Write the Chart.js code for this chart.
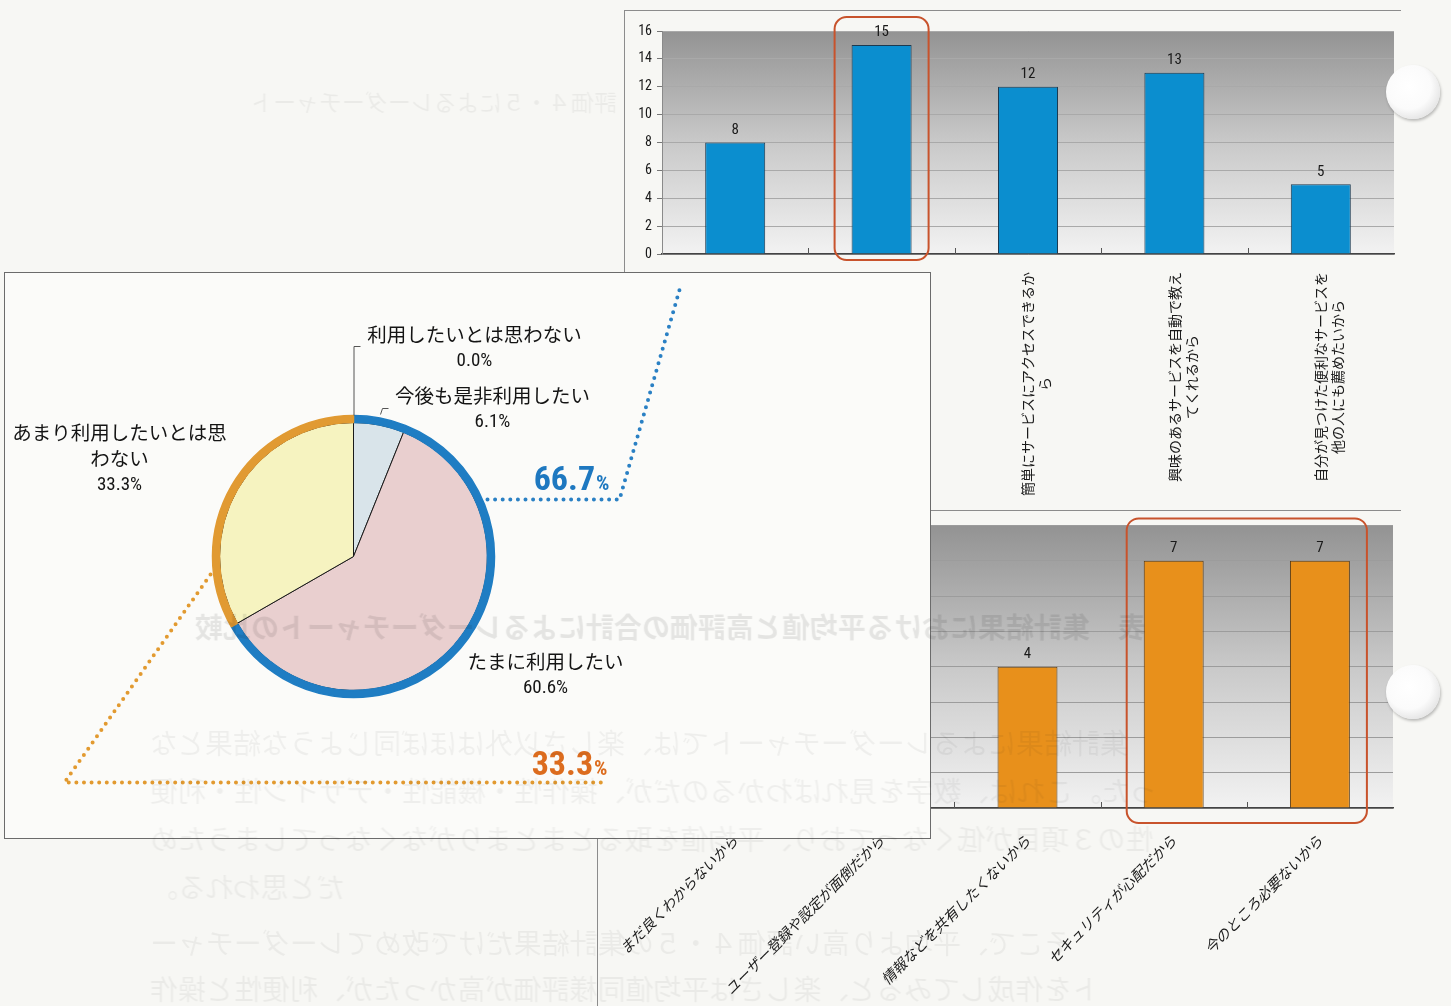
<!DOCTYPE html>
<html lang="ja">
<head>
<meta charset="utf-8">
<script src="https://cdn.jsdelivr.net/npm/chart.js@4.4.1/dist/chart.umd.min.js"></script>
<style>
  html, body { margin: 0; padding: 0; }
  body { width: 1451px; height: 1006px; overflow: hidden; position: relative; background: #f7f7f4; font-family: 'Noto Sans CJK JP', sans-serif; }
  canvas { position: absolute; }
  .frame { position: absolute; border: 0 solid #8c8c8c; }
  .hole { position: absolute; width: 54px; height: 54px; border-radius: 50%;
          background: radial-gradient(circle at 42% 40%, #ffffff 0%, #fbfbfb 50%, #e4e4e4 76%, #b8b8b8 100%);
          box-shadow: 1px 2px 3px rgba(0,0,0,0.25); }
  .ghost { position: absolute; white-space: nowrap; transform: scaleX(-1); pointer-events: none;
           color: rgba(0,0,0,0.05); font-size: 28px; mix-blend-mode: multiply; }
  #panel { position: absolute; left: 4px; top: 272px; width: 925px; height: 565px; background: #fbfbf9; border: 1.5px solid #6b6b6b; }
</style>
</head>
<body>

<div class="frame" style="left:624px;top:10px;width:776px;height:500px;border-top-width:1.5px;border-left-width:1.5px;"></div>
<div class="frame" style="left:597px;top:510px;width:803px;height:500px;border-top-width:1.5px;border-left-width:1.5px;"></div>

<canvas id="reasonChart" width="776" height="498" style="left:624px;top:10px"></canvas>
<canvas id="refusalChart" width="803" height="494" style="left:597px;top:512px"></canvas>

<div id="panel"><canvas id="intentChart" width="925" height="565" style="left:0;top:0"></canvas></div>

<!-- 裏写り -->
<div class="ghost" style="left:250px;top:84px;font-size:23px;">評価４・５によるレーダーチャート</div>
<div class="ghost" style="left:195px;top:606px;font-weight:bold;color:rgba(0,0,0,0.09);">表　集計結果における平均値と高評価の合計によるレーダーチャートの比較</div>
<div class="ghost" style="left:150px;top:722px;">集計結果によるレーダーチャートでは、楽しさ以外はほぼ同じような結果とな</div>
<div class="ghost" style="left:150px;top:770px;">った。これは、数字を見ればわかるのだが、操作性・機能性・デザイン性・利便</div>
<div class="ghost" style="left:150px;top:818px;">性の３項目が低くなっており、平均値を取るとまとまりがなくなってしまうため</div>
<div class="ghost" style="left:150px;top:866px;">だと思われる。</div>
<div class="ghost" style="left:150px;top:922px;">そこで、平均より高い評価４・５の集計結果だけで改めてレーダーチャー</div>
<div class="ghost" style="left:150px;top:968px;">トを作成してみると、楽しさは平均値同様評価が高かったが、利便性と操作</div>

<div class="hole" style="left:1386px;top:65px;"></div>
<div class="hole" style="left:1386px;top:665px;"></div>

<script>
const JP = "'Noto Sans CJK JP', sans-serif";
const NUM = "'Roboto Condensed', 'Liberation Sans', sans-serif";

// 利用したい理由（件数）
const reasonLabels = [
    ['情報がひとつの画面で見られるから'],
    ['好きなサービスを組み合わせられるから'],
    ['簡単にサービスにアクセスできるか', 'ら'],
    ['興味のあるサービスを自動で教え', 'てくれるから'],
    ['自分が見つけた便利なサービスを', '他の人にも薦めたいから']
];
const reasonCounts = [8, 15, 12, 13, 5];
const reasonTicks = [0, 2, 4, 6, 8, 10, 12, 14, 16];

// 利用したくない理由（件数）
const refusalLabels = ['まだ良くわからないから', 'ユーザー登録や設定が面倒だから', '情報などを共有したくないから', 'セキュリティが心配だから', '今のところ必要ないから'];
const refusalCounts = [3, 5, 4, 7, 7];
const refusalTicks = [0, 1, 2, 3, 4, 5, 6, 7, 8];

// 今後の利用意向（%）
const intentLabels = ['今後も是非利用したい', 'たまに利用したい', 'あまり利用したいとは思わない', '利用したいとは思わない'];
const intentShares = [6.1, 60.6, 33.3, 0.0];
// 外周リング：利用したい / 利用したくない
const ringShares = [intentShares[0] + intentShares[1], intentShares[2] + intentShares[3]];

// 縦書きラベルの2行目を1行目の中央にそろえる
const centerLines = (lines) => {
    const n = Math.max(...lines.map(s => s.length));
    return lines.map(s => {
        const gap = n - s.length;
        return s + '\u3000'.repeat(Math.floor(gap / 2)) + (gap % 2 ? '\u2002' : '');
    });
};

// プロット領域のグラデーション背景と内向きの目盛り
const plotShade = {
    id: 'plotShade',
    beforeDraw(chart) {
        const { ctx, chartArea: a } = chart;
        const g = ctx.createLinearGradient(0, a.top, 0, a.bottom);
        g.addColorStop(0, '#939393');
        g.addColorStop(0.5, '#c9c9c9');
        g.addColorStop(1, '#f2f2f2');
        ctx.save();
        ctx.fillStyle = g;
        ctx.fillRect(a.left, a.top, a.width, a.height);
        ctx.restore();
    },
    afterDatasetsDraw(chart) {
        const { ctx, chartArea: a } = chart;
        const n = chart.data.labels.length;
        ctx.save();
        ctx.strokeStyle = '#555';
        ctx.lineWidth = 1;
        for (let i = 1; i < n; i++) {
            const x = Math.round(a.left + i * a.width / n) + 0.5;
            ctx.beginPath();
            ctx.moveTo(x, a.bottom);
            ctx.lineTo(x, a.bottom - 6);
            ctx.stroke();
        }
        ctx.restore();
    }
};

// 棒の上の件数
const valueLabels = {
    id: 'valueLabels',
    afterDatasetsDraw(chart) {
        const { ctx } = chart;
        const meta = chart.getDatasetMeta(0);
        const values = chart.data.datasets[0].data;
        ctx.save();
        ctx.font = '15px ' + NUM;
        ctx.fillStyle = '#1a1a1a';
        ctx.textAlign = 'center';
        ctx.textBaseline = 'bottom';
        meta.data.forEach((bar, i) => ctx.fillText(values[i], bar.x, bar.y - 5));
        ctx.restore();
    }
};

// 赤い角丸枠
const highlight = {
    id: 'highlight',
    afterDraw(chart, args, opts) {
        const { ctx, chartArea: a, scales: { x } } = chart;
        const left = x.getPixelForValue(opts.from) - opts.padX;
        const right = x.getPixelForValue(opts.to) + opts.padX;
        const top = a.top - opts.above;
        const bottom = a.bottom + opts.below;
        ctx.save();
        ctx.strokeStyle = '#c8532c';
        ctx.lineWidth = 2;
        ctx.beginPath();
        ctx.roundRect(left, top, right - left, bottom - top, 12);
        ctx.stroke();
        ctx.restore();
    }
};

const yTicks = (values) => ({
    afterBuildTicks: (scale) => { scale.ticks = values.map(v => ({ value: v })); }
});

const yGrid = {
    color: '#a9a9a9',
    tickColor: '#777',
    tickLength: 5
};

// 上：利用したい理由
new Chart(document.getElementById('reasonChart'), {
    type: 'bar',
    data: {
        labels: reasonLabels.map(centerLines),
        datasets: [{
            data: reasonCounts,
            backgroundColor: '#0b8ecf',
            borderColor: '#1c3a50',
            borderWidth: 1,
            categoryPercentage: 1,
            barPercentage: 0.41
        }]
    },
    options: {
        responsive: false,
        animation: false,
        layout: { padding: { top: 21, right: 6, left: 0, bottom: 0 } },
        plugins: {
            legend: { display: false },
            tooltip: { enabled: false },
            highlight: { from: 1, to: 1, padX: 47, above: 14, below: 6 }
        },
        scales: {
            x: {
                grid: { display: false },
                border: { color: '#444', width: 1.5 },
                ticks: { autoSkip: false, minRotation: 90, maxRotation: 90, padding: 10, color: '#1a1a1a', font: { family: JP, size: 14 } },
                afterFit: (s) => { s.height = 254; }
            },
            y: {
                min: 0, max: 16,
                ...yTicks(reasonTicks),
                grid: yGrid,
                border: { color: '#8a8a8a', width: 1 },
                ticks: { padding: 5, color: '#1a1a1a', font: { family: NUM, size: 14 } },
                afterFit: (s) => { s.width = 38; }
            }
        }
    },
    plugins: [plotShade, valueLabels, highlight]
});

// 下：利用したくない理由
new Chart(document.getElementById('refusalChart'), {
    type: 'bar',
    data: {
        labels: refusalLabels,
        datasets: [{
            data: refusalCounts,
            backgroundColor: '#e8901b',
            borderColor: '#5b3b12',
            borderWidth: 1,
            categoryPercentage: 1,
            barPercentage: 0.41
        }]
    },
    options: {
        responsive: false,
        animation: false,
        layout: { padding: { top: 9, right: 7, left: 0, bottom: 0 } },
        plugins: {
            legend: { display: false },
            tooltip: { enabled: false },
            highlight: { from: 3, to: 4, padX: 47, above: 7, below: 15 }
        },
        scales: {
            x: {
                grid: { display: false },
                border: { color: '#444', width: 1.5 },
                ticks: { autoSkip: false, minRotation: 45, maxRotation: 45, padding: 16, color: '#1a1a1a', font: { family: JP, size: 14.5, style: 'italic' } },
                afterFit: (s) => { s.height = 198; }
            },
            y: {
                min: 0, max: 8,
                ...yTicks(refusalTicks),
                grid: { ...yGrid, color: '#9c9c9c' },
                border: { color: '#8a8a8a', width: 1 },
                ticks: { padding: 5, color: '#1a1a1a', font: { family: NUM, size: 14 } },
                afterFit: (s) => { s.width = 65; }
            }
        }
    },
    plugins: [plotShade, valueLabels, highlight]
});

// 円グラフの注記：ラベル、引き出し線、点線と合計％
const pieNotes = {
    id: 'pieNotes',
    afterDraw(chart) {
        const { ctx } = chart;
        const arc = chart.getDatasetMeta(0).data[0];
        const cx = arc.x, cy = arc.y, R = arc.outerRadius;

        ctx.save();
        // 引き出し線
        ctx.strokeStyle = '#555';
        ctx.lineWidth = 1;
        ctx.beginPath();
        ctx.moveTo(cx + 0.5, cy - R);
        ctx.lineTo(cx + 0.5, cy - 210);
        ctx.lineTo(cx + 7, cy - 210);
        ctx.moveTo(cx + 27, cy - 142);
        ctx.lineTo(cx + 29, cy - 148);
        ctx.lineTo(cx + 35, cy - 148);
        ctx.stroke();

        // 点線
        const dotted = (color, pts) => {
            ctx.strokeStyle = color;
            ctx.lineWidth = 4;
            ctx.lineCap = 'round';
            ctx.setLineDash([0, 7.6]);
            ctx.beginPath();
            ctx.moveTo(pts[0][0], pts[0][1]);
            pts.slice(1).forEach(p => ctx.lineTo(p[0], p[1]));
            ctx.stroke();
        };
        dotted('#2a80c4', [[cx + 134, cy - 57], [cx + 266, cy - 57], [cx + 327, cy - 270]]);
        dotted('#e29a30', [[cx - 143, cy + 18], [cx - 289, cy + 226], [cx + 254, cy + 226]]);
        ctx.setLineDash([]);

        // 合計％
        const total = (value, color, x, y) => {
            ctx.fillStyle = color;
            ctx.textAlign = 'right';
            ctx.textBaseline = 'alphabetic';
            ctx.font = 'bold 21px ' + NUM;
            const w = ctx.measureText('%').width + 1;
            ctx.fillText('%', x, y);
            ctx.font = 'bold 34px ' + NUM;
            ctx.fillText(value.toFixed(1), x - w, y);
        };
        total(ringShares[0], '#1e78c0', cx + 256, cy - 67);
        total(ringShares[1], '#dc6c1e', cx + 254, cy + 218);

        // 各項目のラベル
        const spots = [
            { dx: 139, dy: -161 },
            { dx: 192, dy: 105 },
            { dx: -234, dy: -124 },
            { dx: 121, dy: -222 }
        ];
        ctx.textAlign = 'center';
        ctx.textBaseline = 'middle';
        ctx.fillStyle = '#141414';
        intentLabels.forEach((label, i) => {
            const lines = label.length > 11 ? [label.slice(0, 11), label.slice(11)] : [label];
            const { dx, dy } = spots[i];
            ctx.font = '19.5px ' + JP;
            lines.forEach((s, k) => ctx.fillText(s, cx + dx, cy + dy + k * 26));
            ctx.font = '19px ' + NUM;
            ctx.fillText(intentShares[i].toFixed(1) + '%', cx + dx, cy + dy + lines.length * 26 + 1);
        });
        ctx.restore();
    }
};

new Chart(document.getElementById('intentChart'), {
    type: 'pie',
    data: {
        labels: intentLabels,
        datasets: [
            {
                data: ringShares,
                backgroundColor: ['#1f7dc3', '#e19a32'],
                borderColor: ['#1f7dc3', '#e19a32'],
                borderWidth: 1.5,
                weight: 7
            },
            {
                data: intentShares,
                backgroundColor: ['#d9e4ea', '#e9cfcf', '#f6f3c0', '#ffffff'],
                borderColor: '#1a1a1a',
                borderWidth: 1,
                weight: 134
            }
        ]
    },
    options: {
        responsive: false,
        animation: false,
        radius: 141,
        hoverOffset: 0,
        layout: { padding: { left: 207, right: 435, top: 142, bottom: 140 } },
        plugins: { legend: { display: false }, tooltip: { enabled: false } }
    },
    plugins: [pieNotes]
});
</script>
</body>
</html>
